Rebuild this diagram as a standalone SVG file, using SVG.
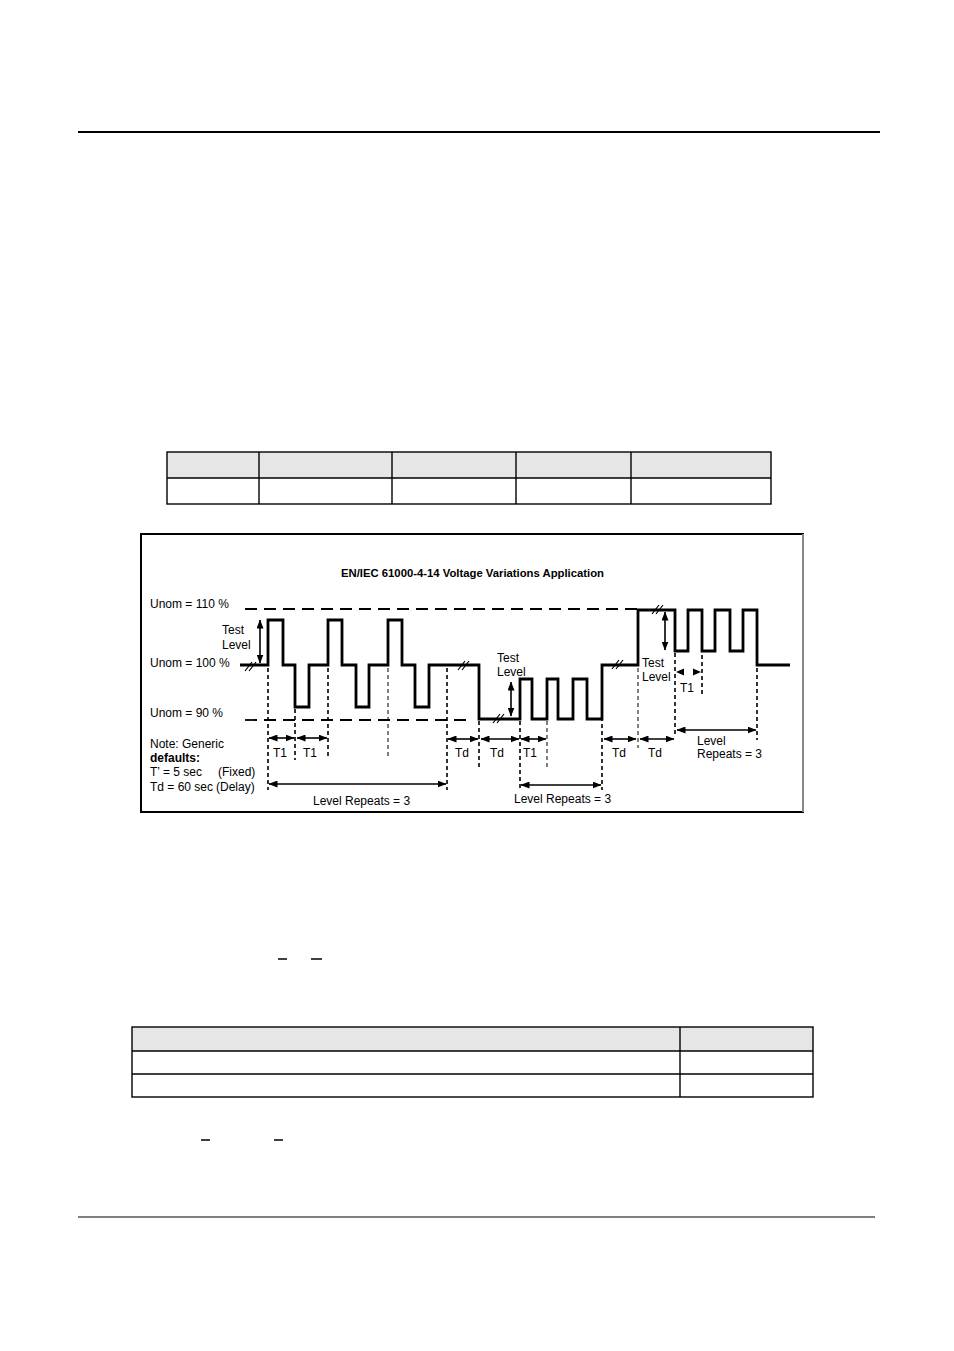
<svg xmlns="http://www.w3.org/2000/svg" width="954" height="1351" viewBox="0 0 954 1351">
<defs>
<style>
.lbl{font-family:"Liberation Sans",Arial,sans-serif;font-size:12px;fill:#000}
.ttl{font-family:"Liberation Sans",Arial,sans-serif;font-size:10px;font-weight:bold;fill:#000}
.wave{fill:none;stroke:#000;stroke-width:2.8;stroke-linejoin:miter}
.hd{fill:none;stroke:#000;stroke-width:1.8;stroke-dasharray:12 7}
.vd{fill:none;stroke:#000;stroke-width:1.6;stroke-dasharray:4 3}
.vt{fill:none;stroke:#000;stroke-width:1;stroke-dasharray:4 3}
.arr{fill:none;stroke:#000;stroke-width:1.6;marker-start:url(#ah);marker-end:url(#ah)}
.brk{fill:none;stroke:#000;stroke-width:1.2}
.tb{fill:none;stroke:#000;stroke-width:1.4}
.hdr{fill:#e6e6e6}
</style>
<marker id="ah" viewBox="0 0 9 7" refX="8.5" refY="3.5" markerWidth="9" markerHeight="7" markerUnits="userSpaceOnUse" orient="auto-start-reverse">
<path d="M0,0 L9,3.5 L0,7 Z" fill="#000"/>
</marker>
</defs>
<rect width="954" height="1351" fill="#fff"/>

<g id="page-rules">
<line x1="78" y1="132" x2="880" y2="132" stroke="#000" stroke-width="2"/>
<line x1="78" y1="1217" x2="875" y2="1217" stroke="#000" stroke-width="1"/>
<line x1="278" y1="959" x2="287" y2="959" stroke="#000" stroke-width="1.5"/>
<line x1="311" y1="959" x2="322" y2="959" stroke="#000" stroke-width="1.5"/>
<line x1="201" y1="1140" x2="210" y2="1140" stroke="#000" stroke-width="1.5"/>
<line x1="274" y1="1140" x2="283" y2="1140" stroke="#000" stroke-width="1.5"/>
</g>

<g id="table1">
<rect class="hdr" x="167" y="452" width="604" height="26"/>
<rect class="tb" x="167" y="452" width="604" height="52"/>
<line class="tb" x1="167" y1="478" x2="771" y2="478"/>
<line class="tb" x1="259" y1="452" x2="259" y2="504"/>
<line class="tb" x1="392" y1="452" x2="392" y2="504"/>
<line class="tb" x1="516" y1="452" x2="516" y2="504"/>
<line class="tb" x1="631" y1="452" x2="631" y2="504"/>
</g>

<g id="table2">
<rect class="hdr" x="132" y="1027" width="681" height="24"/>
<rect class="tb" x="132" y="1027" width="681" height="70"/>
<line class="tb" x1="132" y1="1051" x2="813" y2="1051"/>
<line class="tb" x1="132" y1="1074" x2="813" y2="1074"/>
<line class="tb" x1="680" y1="1027" x2="680" y2="1097"/>
</g>

<g id="frame">
<rect x="141" y="534" width="662" height="278" fill="none" stroke="#000" stroke-width="2"/>
<line x1="803" y1="534" x2="803" y2="812" stroke="#888" stroke-width="2"/>
</g>

<g id="title">
<text class="ttl" x="341" y="577" textLength="263" lengthAdjust="spacingAndGlyphs">EN/IEC 61000-4-14 Voltage Variations Application</text>
</g>

<g id="level-labels">
<text class="lbl" x="150" y="608">Unom = 110 %</text>
<text class="lbl" x="150" y="667">Unom = 100 %</text>
<text class="lbl" x="150" y="717">Unom = 90 %</text>
<text class="lbl" x="222" y="634">Test</text>
<text class="lbl" x="222" y="649">Level</text>
</g>

<g id="note">
<text class="lbl" x="150" y="748">Note: Generic</text>
<text class="lbl" x="150" y="762" font-weight="bold" font-size="11.5">defaults:</text>
<text class="lbl" x="150" y="776">T’ = 5 sec<tspan x="218">(Fixed)</tspan></text>
<text class="lbl" x="150" y="791">Td = 60 sec<tspan x="216">(Delay)</tspan></text>
</g>

<g id="reference-lines">
<line class="hd" x1="245" y1="609" x2="638" y2="609"/>
<line class="hd" x1="245" y1="720" x2="470" y2="720"/>
</g>

<g id="waveform">
<path class="wave" d="M240,665 H268 V620 H283 V665 H295 V707 H309 V665 H328 V620 H342 V665 H356 V707 H369 V665 H388 V620 H402 V665 H415 V707 H429 V665 H479 V719 H520 V679 H532 V719 H547 V679 H558 V719 H573 V679 H587 V719 H602 V665 H638 V610 H675 V651 H688 V610 H702 V651 H715 V610 H730 V651 H743 V610 H757 V665 H790"/>
</g>

<g id="break-marks">
<path class="brk" d="M245,671 L252,662 M249,671 L256,662"/>
<path class="brk" d="M458,670 L465,661 M462,670 L469,661"/>
<path class="brk" d="M493,723 L500,714 M497,723 L504,714"/>
<path class="brk" d="M612,669 L619,660 M616,669 L623,660"/>
<path class="brk" d="M652,614 L659,605 M656,614 L663,605"/>
</g>

<g id="connectors">
<line class="vd" x1="268" y1="668" x2="268" y2="790"/>
<line class="vd" x1="295" y1="709" x2="295" y2="760"/>
<line class="vd" x1="328" y1="668" x2="328" y2="757"/>
<line class="vt" x1="388" y1="668" x2="388" y2="757"/>
<line class="vd" x1="447" y1="668" x2="447" y2="790"/>
<line class="vd" x1="479" y1="721" x2="479" y2="767"/>
<line class="vd" x1="520" y1="721" x2="520" y2="790"/>
<line class="vt" x1="547" y1="721" x2="547" y2="767"/>
<line class="vd" x1="602" y1="668" x2="602" y2="790"/>
<line class="vt" x1="638" y1="668" x2="638" y2="748"/>
<line class="vd" x1="675" y1="653" x2="675" y2="735"/>
<line class="vd" x1="702" y1="655" x2="702" y2="697"/>
<line class="vd" x1="757" y1="668" x2="757" y2="740"/>

<line class="arr" x1="260" y1="620" x2="260" y2="663"/>
<line class="arr" x1="511" y1="682" x2="511" y2="716"/>
<line class="arr" x1="665" y1="612" x2="665" y2="650"/>

<line class="arr" x1="269" y1="738" x2="294" y2="738"/>
<line class="arr" x1="297" y1="738" x2="327" y2="738"/>
<line class="arr" x1="269" y1="784" x2="446" y2="784"/>
<line class="arr" x1="448" y1="739" x2="478" y2="739"/>
<line class="arr" x1="481" y1="739" x2="519" y2="739"/>
<line class="arr" x1="521" y1="739" x2="546" y2="739"/>
<line class="arr" x1="521" y1="785" x2="601" y2="785"/>
<line class="arr" x1="604" y1="739" x2="636" y2="739"/>
<line class="arr" x1="640" y1="739" x2="674" y2="739"/>
<line class="arr" x1="677" y1="730" x2="756" y2="730"/>
<path d="M676,672 L684,668.5 L684,675.5 Z" fill="#000"/>
<path d="M701,672 L693,668.5 L693,675.5 Z" fill="#000"/>
</g>

<g id="timing-labels">
<text class="lbl" x="273" y="757">T1</text>
<text class="lbl" x="303" y="757">T1</text>
<text class="lbl" x="455" y="757">Td</text>
<text class="lbl" x="490" y="757">Td</text>
<text class="lbl" x="523" y="757">T1</text>
<text class="lbl" x="612" y="757">Td</text>
<text class="lbl" x="648" y="757">Td</text>
<text class="lbl" x="680" y="692">T1</text>
<text class="lbl" x="313" y="805">Level Repeats = 3</text>
<text class="lbl" x="514" y="803">Level Repeats = 3</text>
<text class="lbl" x="697" y="745">Level</text>
<text class="lbl" x="697" y="758">Repeats = 3</text>
<text class="lbl" x="497" y="662">Test</text>
<text class="lbl" x="497" y="676">Level</text>
<text class="lbl" x="642" y="667">Test</text>
<text class="lbl" x="642" y="681">Level</text>
</g>
</svg>
